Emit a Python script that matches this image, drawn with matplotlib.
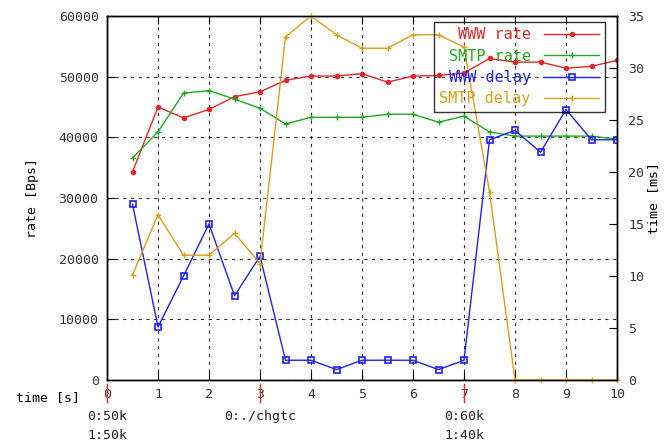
import matplotlib
matplotlib.use("Agg")
import matplotlib.pyplot as plt
import matplotlib.transforms as mtransforms

t = [0.5, 1, 1.5, 2, 2.5, 3, 3.5, 4, 4.5, 5, 5.5, 6, 6.5, 7, 7.5, 8, 8.5, 9, 9.5, 10]
www_rate = [34300, 45000, 43200, 44600, 46700, 47500, 49400, 50100, 50100, 50500, 49100,
            50100, 50200, 50600, 53000, 52400, 52400, 51400, 51700, 52700]
smtp_rate = [36600, 40900, 47300, 47700, 46300, 44800, 42200, 43300, 43300, 43300, 43800,
             43800, 42500, 43500, 40900, 40200, 40200, 40200, 40200, 39700]
www_delay = [16.9, 5.1, 10.0, 15.0, 8.1, 11.9, 1.9, 1.9, 1.0, 1.9, 1.9, 1.9, 1.0, 1.9,
             23.1, 24.0, 21.9, 26.0, 23.1, 23.1]
smtp_delay = [10.1, 15.9, 12.0, 12.0, 14.1, 11.2, 33.0, 35.0, 33.2, 31.9, 31.9, 33.2, 33.2,
              32.0, 18.1, 0, 0, 0, 0, 0]
events = [0, 3, 7]
event_labels = ["0:50k\n1:50k", "0:./chgtc", "0:60k\n1:40k"]

RED = "#e02828"
GREEN = "#22a822"
BLUE = "#2020f0"
GOLD = "#d8a018"
FONT = "DejaVu Sans Mono"
FS = 9.5

fig = plt.figure(figsize=(6.72, 4.44), dpi=100)
ax = fig.add_axes([107/672, 1-380/444, 510/672, 364/444])
ax2 = ax.twinx()

l1, = ax.plot(t, www_rate, color=RED, lw=1, marker="o", ms=3, label="WWW rate")
l2, = ax.plot(t, smtp_rate, color=GREEN, lw=1, marker="+", ms=5, label="SMTP rate")
l3, = ax2.plot(t, www_delay, color=BLUE, lw=1, marker="s", ms=4, mfc="none", mew=1.2, label="WWW delay")
l4, = ax2.plot(t, smtp_delay, color=GOLD, lw=1, marker="+", ms=5, label="SMTP delay", clip_on=False)

ax.set_xlim(0, 10)
ax.set_ylim(0, 60000)
ax2.set_ylim(0, 35)
ax.set_xticks(range(0, 11))
ax.set_yticks(range(0, 60001, 10000))
ax2.set_yticks(range(0, 36, 5))
ax.grid(True, color="black", linestyle=(0, (3, 4)), lw=0.8, alpha=0.8)
ax.set_axisbelow(True)

for a in (ax, ax2):
    for s in a.spines.values():
        s.set_linewidth(1.0)
ax.tick_params(direction="in", length=6, top=True, labelsize=FS, colors="black", labelcolor="#333333", pad=6)
ax2.tick_params(direction="in", length=6, labelsize=FS, labelcolor="#333333", pad=8)
for lab in ax.get_xticklabels() + ax.get_yticklabels() + ax2.get_yticklabels():
    lab.set_fontfamily(FONT)

ax.set_ylabel("rate [Bps]", fontfamily=FONT, fontsize=FS, labelpad=14)
ax2.set_ylabel("time [ms]", fontfamily=FONT, fontsize=FS, labelpad=2)
fig.text(48/672, 1-398/444, "time [s]", fontfamily=FONT, fontsize=FS, ha="center", va="center")

trans = mtransforms.blended_transform_factory(ax.transData, ax.transAxes)
for x, lab in zip(events, event_labels):
    ax.plot([x, x], [-0.01, -0.06], color=RED, lw=1, transform=trans, clip_on=False)
    ax.text(x, -0.083, lab, transform=trans, ha="center", va="top", fontfamily=FONT,
            fontsize=FS, linespacing=1.6, color="#222222")

leg = ax2.legend(handles=[l1, l2, l3, l4], loc="upper right", bbox_to_anchor=(0.976, 0.984),
                 borderaxespad=0, markerfirst=False, labelcolor="linecolor", frameon=True,
                 fancybox=False, edgecolor="black", prop={"family": FONT, "size": 11},
                 handlelength=3.6, borderpad=0.35, labelspacing=0.42, handletextpad=0.9)
leg.get_frame().set_facecolor("none")
leg.get_frame().set_linewidth(1.0)

fig.savefig("out.png", dpi=100)
